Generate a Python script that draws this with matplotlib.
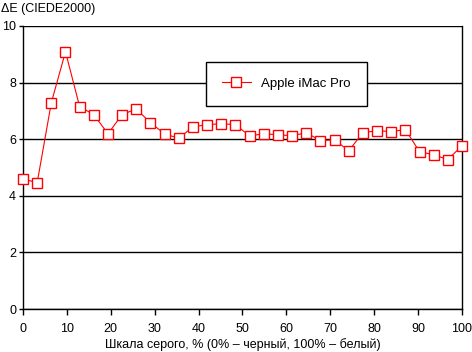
import numpy as np
import matplotlib
matplotlib.use('Agg')
import matplotlib.pyplot as plt

# Данные: шкала серого и отклонение цвета
gray_pct = np.linspace(0, 100, 32)
delta_e = [4.60, 4.46, 7.29, 9.09, 7.15, 6.87, 6.19, 6.87, 7.07, 6.58,
           6.19, 6.03, 6.44, 6.51, 6.55, 6.51, 6.12, 6.19, 6.16, 6.12,
           6.23, 5.95, 5.98, 5.59, 6.23, 6.30, 6.27, 6.34, 5.56, 5.45,
           5.28, 5.77]
series_name = 'Apple iMac Pro'
x_ticks = [0, 10, 20, 30, 40, 50, 60, 70, 80, 90, 100]
y_ticks = [0, 2, 4, 6, 8, 10]

plt.rcParams['font.family'] = ['Liberation Sans', 'DejaVu Sans']
plt.rcParams['font.size'] = 9

fig = plt.figure(figsize=(4.72, 3.52), dpi=100)
ax = fig.add_axes([23 / 472, 1 - 309 / 352, (462 - 23) / 472, (309 - 26) / 352])

ax.plot(gray_pct, delta_e, color='red', linewidth=0.8, marker='s',
        markersize=7, markerfacecolor='white', markeredgecolor='red',
        markeredgewidth=1.0, label=series_name, zorder=3, clip_on=False)

ax.set_xlim(0, 100)
ax.set_ylim(0, 10)
ax.set_xticks(x_ticks)
ax.set_yticks(y_ticks)
ax.yaxis.grid(True, color='black', linewidth=1.0)
ax.set_axisbelow(True)
for s in ['left', 'right', 'bottom']:
    ax.spines[s].set_color('black')
    ax.spines[s].set_linewidth(1.0)
ax.spines['top'].set_visible(False)
ax.tick_params(axis='x', direction='out', length=4, width=1, pad=6)
ax.tick_params(axis='y', direction='out', length=3, width=1, pad=2)

ax.set_xlabel('Шкала серого, % (0% – черный, 100% – белый)', labelpad=2)
fig.text(1 / 472, 1 - 9 / 352, 'ΔE (CIEDE2000)', ha='left', va='center', fontsize=9)

leg = ax.legend(loc='upper left', bbox_to_anchor=((206 - 23) / 439, (309 - 62) / 283),
                borderaxespad=0, frameon=True, fancybox=False, edgecolor='black',
                framealpha=1, borderpad=1.2, handlelength=2.2, fontsize=9.5)
leg.get_frame().set_linewidth(1.0)

plt.savefig('out.png', dpi=100)
